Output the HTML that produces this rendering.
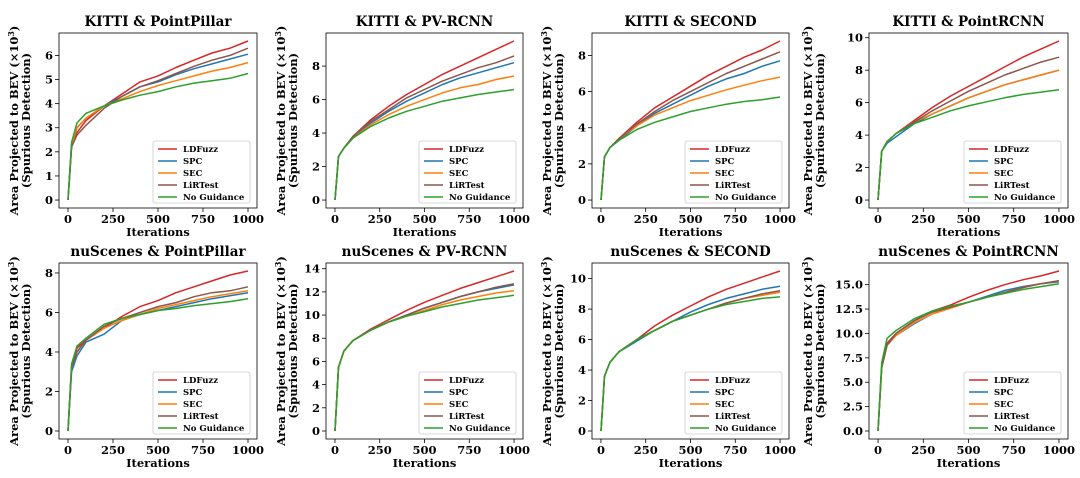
<!DOCTYPE html>
<html><head><meta charset="utf-8"><style>
html,body{margin:0;padding:0;background:#fff;}
svg{display:block;font-family:"DejaVu Serif","Liberation Serif",serif;}
</style></head><body>
<svg id="chart" width="1080" height="478" viewBox="0 0 1080 478"></svg>
<script>
const xs=[0,20,50,100,200,300,400,500,600,700,800,900,1000];
const seriesNames=["LDFuzz","SPC","SEC","LiRTest","No Guidance"];
const titles=["KITTI & PointPillar","KITTI & PV-RCNN","KITTI & SECOND","KITTI & PointRCNN","nuScenes & PointPillar","nuScenes & PV-RCNN","nuScenes & SECOND","nuScenes & PointRCNN"];
const yTicks=[[0,1,2,3,4,5,6],[0,2,4,6,8],[0,2,4,6,8],[0,2,4,6,8,10],[0,2,4,6,8],[0,2,4,6,8,10,12,14],[0,2,4,6,8,10],[0,2.5,5,7.5,10,12.5,15]];
const xTicks=[0,250,500,750,1000];
const p1LD=[0,2.2,2.8,3.3,3.9,4.4,4.9,5.15,5.5,5.8,6.1,6.3,6.6];
const p1SPC=[0,2.3,3.0,3.4,3.9,4.3,4.7,4.9,5.2,5.45,5.65,5.85,6.05];
const p1SEC=[0,2.3,3.0,3.4,3.9,4.2,4.5,4.75,4.95,5.15,5.35,5.5,5.7];
const p1LIR=[0,2.2,2.7,3.1,3.8,4.3,4.7,4.95,5.25,5.55,5.8,6.0,6.3];
const p1NG=[0,2.4,3.2,3.6,3.9,4.15,4.35,4.5,4.7,4.85,4.95,5.05,5.25];
const p2LD=[0,2.6,3.1,3.8,4.8,5.6,6.3,6.9,7.5,8.0,8.5,9.0,9.5];
const p2SPC=[0,2.6,3.1,3.7,4.6,5.3,5.9,6.4,6.9,7.3,7.6,7.9,8.2];
const p2SEC=[0,2.6,3.1,3.7,4.5,5.1,5.6,6.0,6.4,6.7,6.9,7.2,7.4];
const p2LIR=[0,2.6,3.1,3.8,4.7,5.4,6.1,6.6,7.1,7.5,7.9,8.2,8.6];
const p2NG=[0,2.6,3.1,3.7,4.4,4.9,5.3,5.6,5.9,6.1,6.3,6.45,6.6];
const p3LD=[0,2.4,2.9,3.4,4.3,5.1,5.7,6.3,6.9,7.4,7.9,8.3,8.8];
const p3SPC=[0,2.4,2.9,3.3,4.1,4.8,5.3,5.8,6.3,6.7,7.0,7.4,7.7];
const p3SEC=[0,2.4,2.9,3.4,4.1,4.7,5.1,5.5,5.8,6.1,6.35,6.6,6.8];
const p3LIR=[0,2.4,2.9,3.4,4.2,4.9,5.5,6.0,6.5,7.0,7.4,7.8,8.2];
const p3NG=[0,2.4,2.9,3.3,3.9,4.3,4.6,4.9,5.1,5.3,5.45,5.55,5.7];
const p4LD=[0,3.0,3.6,4.1,4.9,5.7,6.4,7.0,7.6,8.2,8.8,9.3,9.8];
const p4SPC=[0,3.0,3.5,3.9,4.7,5.3,5.8,6.3,6.7,7.1,7.4,7.7,8.0];
const p4SEC=[0,3.0,3.6,4.1,4.8,5.3,5.8,6.3,6.7,7.1,7.4,7.7,8.0];
const p4LIR=[0,3.0,3.6,4.1,4.8,5.5,6.1,6.7,7.2,7.7,8.1,8.5,8.8];
const p4NG=[0,3.0,3.6,4.1,4.7,5.1,5.5,5.8,6.05,6.3,6.5,6.65,6.8];
const p5LD=[0,3.3,4.2,4.6,5.2,5.8,6.3,6.6,7.0,7.3,7.6,7.9,8.1];
const p5SPC=[0,3.0,3.8,4.5,4.9,5.6,5.9,6.1,6.3,6.5,6.7,6.85,7.0];
const p5SEC=[0,3.2,4.0,4.6,5.2,5.6,5.9,6.2,6.4,6.6,6.8,6.95,7.1];
const p5LIR=[0,3.2,4.0,4.6,5.3,5.7,6.0,6.3,6.5,6.8,7.0,7.1,7.3];
const p5NG=[0,3.4,4.3,4.7,5.4,5.7,5.9,6.1,6.2,6.35,6.45,6.55,6.7];
const p6LD=[0,5.5,6.9,7.8,8.8,9.6,10.4,11.1,11.7,12.3,12.8,13.3,13.8];
const p6SPC=[0,5.5,6.9,7.8,8.7,9.4,10.0,10.6,11.1,11.6,12.0,12.3,12.6];
const p6SEC=[0,5.5,6.9,7.8,8.7,9.4,9.9,10.4,10.9,11.3,11.6,11.9,12.1];
const p6LIR=[0,5.5,6.9,7.8,8.7,9.4,10.0,10.6,11.1,11.6,12.0,12.4,12.7];
const p6NG=[0,5.5,6.9,7.8,8.7,9.4,9.9,10.3,10.7,11.0,11.3,11.5,11.7];
const p7LD=[0,3.6,4.5,5.2,6.0,6.9,7.6,8.2,8.8,9.3,9.7,10.1,10.5];
const p7SPC=[0,3.6,4.5,5.2,5.9,6.6,7.2,7.8,8.3,8.7,9.0,9.3,9.5];
const p7SEC=[0,3.6,4.5,5.2,6.0,6.6,7.2,7.6,8.0,8.4,8.7,8.9,9.1];
const p7LIR=[0,3.6,4.5,5.2,6.0,6.6,7.2,7.6,8.0,8.4,8.7,9.0,9.2];
const p7NG=[0,3.6,4.5,5.2,6.0,6.6,7.2,7.6,8.0,8.3,8.5,8.7,8.8];
const p8LD=[0,6.5,9.0,10.0,11.3,12.3,12.9,13.7,14.4,15.0,15.5,15.9,16.4];
const p8SPC=[0,6.5,8.8,9.8,11.0,12.0,12.6,13.2,13.8,14.4,14.8,15.1,15.3];
const p8SEC=[0,6.5,8.8,9.8,11.1,12.0,12.6,13.2,13.7,14.2,14.7,15.1,15.4];
const p8LIR=[0,6.5,8.8,10.0,11.3,12.2,12.7,13.2,13.7,14.2,14.7,15.1,15.4];
const p8NG=[0,7.0,9.5,10.3,11.5,12.3,12.8,13.2,13.7,14.1,14.5,14.8,15.1];
const panels=[[p1LD,p1SPC,p1SEC,p1LIR,p1NG],[p2LD,p2SPC,p2SEC,p2LIR,p2NG],[p3LD,p3SPC,p3SEC,p3LIR,p3NG],[p4LD,p4SPC,p4SEC,p4LIR,p4NG],[p5LD,p5SPC,p5SEC,p5LIR,p5NG],[p6LD,p6SPC,p6SEC,p6LIR,p6NG],[p7LD,p7SPC,p7SEC,p7LIR,p7NG],[p8LD,p8SPC,p8SEC,p8LIR,p8NG]];

const colors=["#d62728","#1f77b4","#ff7f0e","#8c564b","#2ca02c"];
const cols=[[59,257],[326,523],[592,789],[869,1068]];
const rows=[[33,208],[263,439]];
const NS="http://www.w3.org/2000/svg";
const svg=document.getElementById('chart');
function mk(tag,attrs,parent,text){const e=document.createElementNS(NS,tag);for(const k in attrs)e.setAttribute(k,attrs[k]);if(text!==undefined)e.textContent=text;parent.appendChild(e);return e;}
function fmt(v,step){return step%1?v.toFixed(1):String(v);}

panels.forEach((ser,pi)=>{
  const c=pi%4,r=Math.floor(pi/4);
  const [L,R]=cols[c],[T,B]=rows[r];
  let mx=0;ser.forEach(s=>s.forEach(v=>{if(v>mx)mx=v;}));
  const y0=-0.05*mx,y1=1.05*mx;
  const sx=v=>L+(v+50)/1100*(R-L);
  const sy=v=>B-(v-y0)/(y1-y0)*(B-T);
  const g=mk('g',{},svg);
  
  
  const t=mk('text',{x:(L+R)/2,y:T-7,'text-anchor':'middle','font-size':13.5,'font-weight':'bold'},g,titles[pi]);
  
  
  const yt=yTicks[pi],step=yt[1]-yt[0];
  yt.forEach(v=>{
    mk('line',{x1:L-4,x2:L,y1:sy(v),y2:sy(v),stroke:'#000','stroke-width':0.8},g);
    const tl=mk('text',{x:L-6,y:sy(v)+4,'text-anchor':'end','font-size':11.5,'font-weight':'bold'},g,fmt(v,step));
    
    
  });
  xTicks.forEach(v=>{
    mk('line',{x1:sx(v),x2:sx(v),y1:B,y2:B+4,stroke:'#000','stroke-width':0.8},g);
    const tl=mk('text',{x:sx(v),y:B+15,'text-anchor':'middle','font-size':11.5,'font-weight':'bold'},g,String(v));
    
    
  });
  const xl=mk('text',{x:(L+R)/2,y:B+28,'text-anchor':'middle','font-size':11.5,'font-weight':'bold'},g,'Iterations');
  
  
  const off=c===3?57:41;
  const cy=(T+B)/2;
  const yl=mk('text',{x:L-off,y:cy,'text-anchor':'middle','font-size':11.5,'font-weight':'bold',transform:`rotate(-90 ${L-off} ${cy})`},g);
  
  
  yl.appendChild(document.createTextNode('Area Projected to BEV (×10'));
  mk('tspan',{'font-size':8,dy:-4},yl,'3');
  mk('tspan',{dy:4},yl,')');
  const yl2=mk('text',{x:L-off+12,y:cy,'text-anchor':'middle','font-size':11.5,'font-weight':'bold',transform:`rotate(-90 ${L-off+12} ${cy})`},g,'(Spurious Detection)');
  
  
  ser.forEach((s,si)=>{
    const d=s.map((v,i)=>(i?'L':'M')+sx(xs[i]).toFixed(1)+','+sy(v).toFixed(1)).join('');
    const p=mk('path',{d:d,fill:'none',stroke:colors[si],'stroke-width':1.5,'stroke-linejoin':'round'},g);
    
    
  });
  const fr=mk('rect',{x:L,y:T,width:R-L,height:B-T,fill:'none',stroke:'#000','stroke-width':0.8},g);
  
  
  const lw=97,lh=62,lx=R-7-lw,ly=B-5-lh;
  const lg=mk('g',{},g);
  
  
  mk('rect',{x:lx,y:ly,width:lw,height:lh,fill:'#fff',stroke:'#ccc','stroke-width':0.8,rx:2},lg);
  seriesNames.forEach((n,si)=>{
    const yy=ly+8+si*12;
    const le=mk('g',{},lg);
    
    
    mk('line',{x1:lx+5,x2:lx+24,y1:yy,y2:yy,stroke:colors[si],'stroke-width':1.5},le);
    mk('text',{x:lx+30,y:yy+3,'font-size':8.5,'font-weight':'bold'},le,n);
  });
});
</script>
</body></html>
